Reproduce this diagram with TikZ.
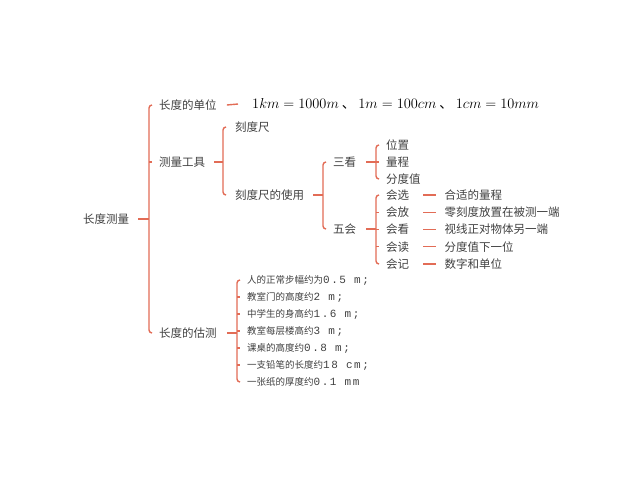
\documentclass[tikz,border=0pt]{standalone}
\usepackage{fontspec}
\newfontfamily\cjk{Noto Sans CJK SC}
\newfontfamily\numfont[LetterSpace=14]{Liberation Mono}
\usetikzlibrary{positioning}
\definecolor{brk}{RGB}{226,108,86}
\definecolor{txt}{RGB}{64,64,64}
\newcommand{\numtxt}[1]{{\numfont\fontsize{11}{11}\selectfont #1}}

\tikzstyle{every node}=[anchor=west, inner sep=1pt, text=txt, font=\cjk\fontsize{11.5}{13}\selectfont]
\tikzstyle{small}=[font=\cjk\fontsize{9.5}{11}\selectfont]
\tikzstyle{big}=[font=\cjk\fontsize{13.5}{15}\selectfont, text=black]
\tikzstyle{brace}=[draw=brk, line width=1.4pt, rounded corners=3pt]
\tikzstyle{link}=[draw=brk, line width=1.4pt]

\begin{document}
\begin{tikzpicture}[x=1pt, y=-1pt]
\useasboundingbox (0,0) rectangle (640,480);

\node (root) at (82,219) {长度测量};

\node (unit) at (158,105) {长度的单位};
\node (tool) at (158,162) {测量工具};
\node (est) at (158,333) {长度的估测};

\node [big] (rel) at (251,104) {$1km=1000m$ 、 $1m=100cm$ 、 $1cm=10mm$};

\node (ruler) at (234,127) {刻度尺};
\node [below=68pt of ruler.west, anchor=west] (use) {刻度尺的使用};

\node (look) at (332,162) {三看};
\node [below=67pt of look.west, anchor=west] (can) {五会};

\node (k1) at (385,145) {位置};
\node [below=17pt of k1.west, anchor=west] (k2) {量程};
\node [below=17pt of k2.west, anchor=west] (k3) {分度值};

\node (s1) at (385,195) {会选};
\node [below=17.25pt of s1.west, anchor=west] (s2) {会放};
\node [below=17.25pt of s2.west, anchor=west] (s3) {会看};
\node [below=17.25pt of s3.west, anchor=west] (s4) {会读};
\node [below=17.25pt of s4.west, anchor=west] (s5) {会记};

\node [right=33pt of s1.east] (a1) {合适的量程};
\node [right=33pt of s2.east] (a2) {零刻度放置在被测一端};
\node [right=33pt of s3.east] (a3) {视线正对物体另一端};
\node [right=33pt of s4.east] (a4) {分度值下一位};
\node [right=33pt of s5.east] (a5) {数字和单位};

\node [small] (e1) at (246,280) {人的正常步幅约为\numtxt{0.5 m;}};
\node [small, below=17pt of e1.west, anchor=west] (e2) {教室门的高度约\numtxt{2 m;}};
\node [small, below=17pt of e2.west, anchor=west] (e3) {中学生的身高约\numtxt{1.6 m;}};
\node [small, below=17pt of e3.west, anchor=west] (e4) {教室每层楼高约\numtxt{3 m;}};
\node [small, below=17pt of e4.west, anchor=west] (e5) {课桌的高度约\numtxt{0.8 m;}};
\node [small, below=17pt of e5.west, anchor=west] (e6) {一支铅笔的长度约\numtxt{18 cm;}};
\node [small, below=17pt of e6.west, anchor=west] (e7) {一张纸的厚度约\numtxt{0.1 mm}};

% brackets
\coordinate (b0) at ([xshift=-9pt]unit.west);
\coordinate (b1) at ([xshift=-11pt]ruler.west);
\coordinate (b2) at ([xshift=-9pt]look.west);
\coordinate (b3) at ([xshift=-9pt]k1.west);
\coordinate (b4) at ([xshift=-9pt]s1.west);
\coordinate (b5) at ([xshift=-9pt]e1.west);

\draw [brace] ([xshift=-6pt]unit.west) -| ([xshift=-9pt]est.west) -- ([xshift=-6pt]est.west);
\draw [brace] ([xshift=-8pt]ruler.west) -| ([xshift=-11pt]use.west) -- ([xshift=-8pt]use.west);
\draw [brace] ([xshift=-6pt]look.west) -| ([xshift=-9pt]can.west) -- ([xshift=-6pt]can.west);
\draw [brace] ([xshift=-6pt]k1.west) -| ([xshift=-9pt]k3.west) -- ([xshift=-6pt]k3.west);
\draw [brace] ([xshift=-6pt]s1.west) -| ([xshift=-9pt]s5.west) -- ([xshift=-6pt]s5.west);
\draw [brace] ([xshift=-6pt]e1.west) -| ([xshift=-9pt]e7.west) -- ([xshift=-6pt]e7.west);

% small ticks at inner children
\foreach \n in {tool,k2,s2,s3,s4,e2,e3,e4,e5,e6}
	\draw [link] ([xshift=-9pt]\n.west) -- ([xshift=-6.5pt]\n.west);

% parent links
\draw [link] ([xshift=8pt]root.east) -- (root.east -| b0);
\draw [link] ([xshift=8pt]tool.east) -- (tool.east -| b1);
\draw [link] ([xshift=8pt]use.east) -- (use.east -| b2);
\draw [link] ([xshift=9pt]look.east) -- (look.east -| b3);
\draw [link] ([xshift=9pt]can.east) -- (can.east -| b4);
\draw [link] ([xshift=9pt]est.east) -- (est.east -| b5);

\draw [link] ([xshift=9pt]unit.east) -- ([xshift=-13pt]rel.west);
\foreach \i in {1,...,5}
	\draw [link] ([xshift=13pt]s\i.east) -- ([xshift=-7pt]a\i.west);

\end{tikzpicture}
\end{document}
